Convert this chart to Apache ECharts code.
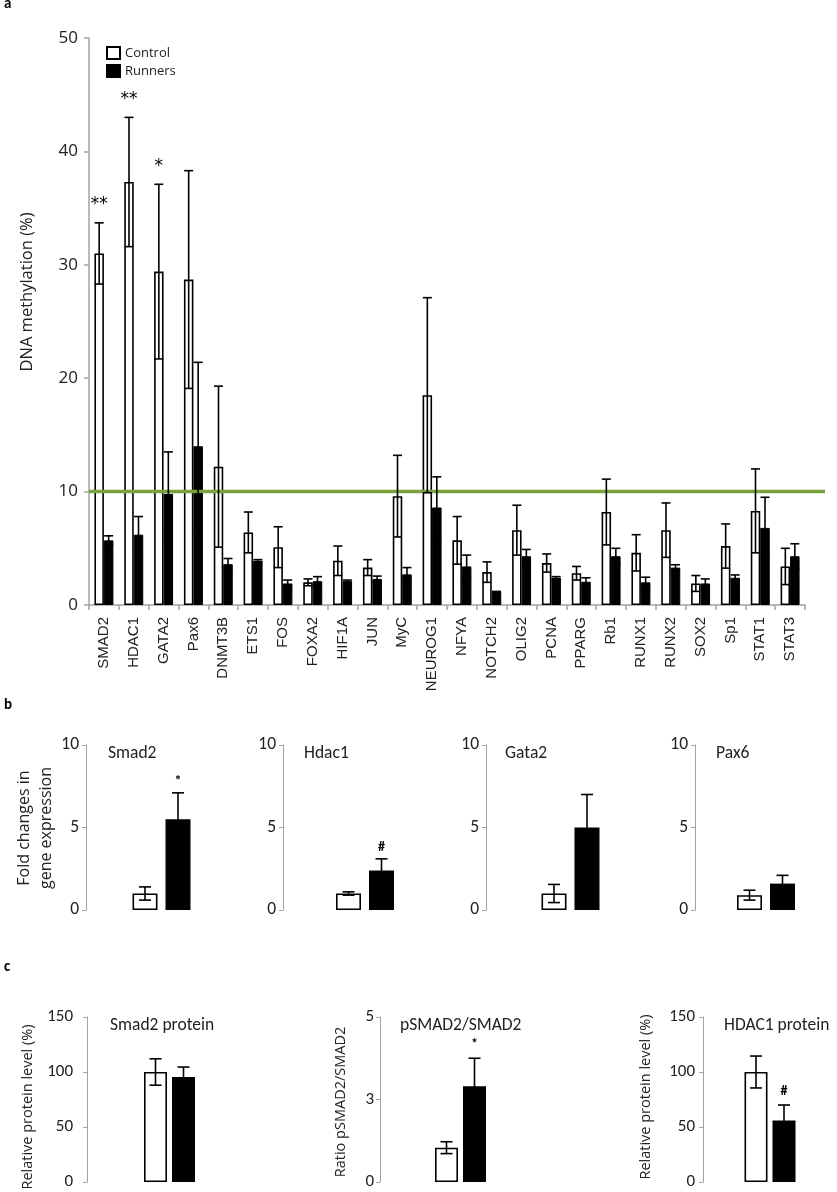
<!DOCTYPE html>
<html><head><meta charset="utf-8">
<script src="https://cdn.jsdelivr.net/npm/echarts/dist/echarts.min.js"></script>
<style>html,body{margin:0;padding:0;background:#fff}#c{width:837px;height:1192px}</style>
</head><body><div id="c"></div>
<script>
// ---------- Panel a data ----------
const genes = ['SMAD2','HDAC1','GATA2','Pax6','DNMT3B','ETS1','FOS','FOXA2','HIF1A','JUN','MyC','NEUROG1','NFYA','NOTCH2','OLIG2','PCNA','PPARG','Rb1','RUNX1','RUNX2','SOX2','Sp1','STAT1','STAT3'];
const controlMean = [31.0,37.3,29.4,28.7,12.2,6.4,5.1,2.0,3.9,3.3,9.6,18.5,5.7,2.9,6.6,3.7,2.8,8.2,4.6,6.6,1.9,5.2,8.3,3.4];
const controlErr  = [2.7,5.7,7.7,9.6,7.1,1.8,1.8,0.3,1.3,0.7,3.6,8.6,2.1,0.9,2.2,0.8,0.6,2.9,1.6,2.4,0.7,1.95,3.7,1.6];
const runnersMean = [5.7,6.2,9.8,14.0,3.6,3.9,1.9,2.1,2.1,2.3,2.7,8.6,3.4,1.15,4.3,2.4,2.05,4.3,2.0,3.3,1.9,2.4,6.8,4.3];
const runnersErr  = [0.4,1.6,3.7,7.4,0.5,0.1,0.3,0.4,0.1,0.25,0.6,2.7,1.0,0.05,0.6,0.1,0.35,0.7,0.45,0.25,0.4,0.25,2.7,1.1];
const sigMarksA   = ['**','**','*','','','','','','','','','','','','','','','','','','','','',''];
const threshold = 10;
const yTicksA = [0, 50, 10]; // min, max, step

// ---------- Panel b data ----------
const bGenes      = ['Smad2','Hdac1','Gata2','Pax6'];
const bControl    = [1.0, 1.0, 1.0, 0.9];
const bControlErr = [0.4, 0.1, 0.55, 0.3];
const bRunners    = [5.5, 2.4, 5.0, 1.6];
const bRunnersErr = [1.6, 0.7, 2.0, 0.5];
const bMarks      = ['*', '#', '', ''];

// ---------- Panel c data ----------
const cTitles     = ['Smad2 protein', 'pSMAD2/SMAD2', 'HDAC1 protein'];
const cControl    = [100, 1.04, 100];
const cControlErr = [12, 0.18, 14.5];
const cRunners    = [95.5, 2.9, 56];
const cRunnersErr = [9, 0.85, 14];
const cMarks      = ['', '*', '#'];
const cYMax       = [150, 5, 150];
const cYStep      = [50, 2.5, 50];
const cYNames     = ['Relative protein level (%)', 'Ratio pSMAD2/SMAD2', 'Relative protein level (%)'];

// ---------- layout ----------
const gridA = {left: 89, top: 38, width: 716, height: 567};
const gridsB = [{left:86,width:151},{left:283,width:164},{left:486,width:169},{left:695,width:178}];
const gridsC = [{left:87,width:165},{left:380,width:161},{left:703,width:169}];
const AXIS_GREY = '#a3a3a3';
const TXT = '#222';

function errRender(offset, capHalf, marks, markFont, markGap) {
  return function (params, api) {
    const i = api.value(0), m = api.value(1), e = api.value(2);
    const pt = api.coord([i, m + e]);
    const pb = api.coord([i, m - e]);
    const x = pt[0] + offset;
    const st = {stroke: '#000', lineWidth: 1.6};
    const ch = [
      {type: 'line', shape: {x1: x, y1: pt[1], x2: x, y2: pb[1]}, style: st},
      {type: 'line', shape: {x1: x - capHalf, y1: pt[1], x2: x + capHalf, y2: pt[1]}, style: st},
      {type: 'line', shape: {x1: x - capHalf, y1: pb[1], x2: x + capHalf, y2: pb[1]}, style: st}
    ];
    const mk = marks[params.dataIndex];
    if (mk) ch.push({type: 'text', x: x, y: pt[1] - markGap,
      style: {text: mk, fill: '#000', font: markFont, align: 'center', verticalAlign: 'middle'}});
    return {type: 'group', children: ch};
  };
}

const grid = [], xAxis = [], yAxis = [], series = [], title = [], graphic = [];

// Panel a
grid.push(gridA);
xAxis.push({type: 'category', gridIndex: 0, data: genes,
  axisLine: {lineStyle: {color: AXIS_GREY, width: 1.5}},
  axisTick: {show: true, length: 5, lineStyle: {color: AXIS_GREY, width: 1.5}},
  axisLabel: {rotate: 90, interval: 0, margin: 12, fontFamily: 'Liberation Sans', fontSize: 15, color: TXT}});
yAxis.push({type: 'value', gridIndex: 0, min: yTicksA[0], max: yTicksA[1], interval: yTicksA[2],
  axisLine: {show: true, lineStyle: {color: AXIS_GREY, width: 1.5}},
  axisTick: {show: true, length: 5, lineStyle: {color: AXIS_GREY, width: 1.5}},
  splitLine: {show: false},
  axisLabel: {fontFamily: 'Open Sans', fontSize: 17, color: TXT, margin: 11}});
// threshold overlay grid (line extends beyond last category)
grid.push({left: 89, top: 38, width: 736, height: 567});
xAxis.push({type: 'value', gridIndex: 1, min: 0, max: 1, show: false});
yAxis.push({type: 'value', gridIndex: 1, min: yTicksA[0], max: yTicksA[1], show: false});

const bwA = 9.5;
series.push({name: 'Control', type: 'bar', xAxisIndex: 0, yAxisIndex: 0, data: controlMean,
  barWidth: bwA, barGap: '0%', itemStyle: {color: '#fff', borderColor: '#000', borderWidth: 1.6}, z: 2});
series.push({name: 'Runners', type: 'bar', xAxisIndex: 0, yAxisIndex: 0, data: runnersMean,
  barWidth: bwA, barGap: '0%', itemStyle: {color: '#000', borderColor: '#000', borderWidth: 1}, z: 2});
series.push({type: 'line', xAxisIndex: 1, yAxisIndex: 1, data: [[0, threshold], [1, threshold]],
  symbol: 'none', lineStyle: {color: '#79a13c', width: 3.5}, z: 3, silent: true});
series.push({type: 'custom', xAxisIndex: 0, yAxisIndex: 0, z: 5,
  data: controlMean.map((v, i) => [i, v, controlErr[i]]),
  renderItem: errRender(-bwA / 2, 4.5, sigMarksA, '17px "DejaVu Sans"', 18)});
series.push({type: 'custom', xAxisIndex: 0, yAxisIndex: 0, z: 5,
  data: runnersMean.map((v, i) => [i, v, runnersErr[i]]),
  renderItem: errRender(bwA / 2, 4.5, [], '', 0)});

// Panel b
bGenes.forEach((g, k) => {
  const gi = grid.length;
  grid.push({left: gridsB[k].left, width: gridsB[k].width, top: 745, height: 165});
  xAxis.push({type: 'category', gridIndex: gi, data: [''], show: false});
  yAxis.push({type: 'value', gridIndex: gi, min: 0, max: 10, interval: 5,
    axisLine: {show: true, lineStyle: {color: AXIS_GREY, width: 1}},
    axisTick: {show: true, length: 4, lineStyle: {color: AXIS_GREY}},
    splitLine: {show: false},
    axisLabel: {fontFamily: 'Carlito', fontSize: 17.5, color: TXT, margin: 7}});
  const bw = 25, gap = 8;
  series.push({name: 'Control', type: 'bar', xAxisIndex: gi, yAxisIndex: gi, data: [bControl[k]],
    barWidth: bw, barGap: (gap / bw * 100) + '%', itemStyle: {color: '#fff', borderColor: '#000', borderWidth: 1.6}});
  series.push({name: 'Runners', type: 'bar', xAxisIndex: gi, yAxisIndex: gi, data: [bRunners[k]],
    barWidth: bw, barGap: (gap / bw * 100) + '%', itemStyle: {color: '#000'}});
  series.push({type: 'custom', xAxisIndex: gi, yAxisIndex: gi, z: 5, data: [[0, bControl[k], bControlErr[k]]],
    renderItem: errRender(-(bw + gap) / 2, 6, [], '', 0)});
  series.push({type: 'custom', xAxisIndex: gi, yAxisIndex: gi, z: 5, data: [[0, bRunners[k], bRunnersErr[k]]],
    renderItem: errRender((bw + gap) / 2, 6, [bMarks[k]], 'bold 14px Carlito', 11)});
  title.push({text: g, left: gridsB[k].left + [17, 16, 14, 16][k], top: 740,
    textStyle: {fontFamily: 'Carlito', fontSize: 17.5, fontWeight: 'normal', color: TXT}});
});

// Panel c
cTitles.forEach((t, k) => {
  const gi = grid.length;
  grid.push({left: gridsC[k].left, width: gridsC[k].width, top: 1017, height: 165});
  xAxis.push({type: 'category', gridIndex: gi, data: [''], show: false});
  yAxis.push({type: 'value', gridIndex: gi, min: 0, max: cYMax[k], interval: cYStep[k],
    axisLine: {show: true, lineStyle: {color: AXIS_GREY, width: 1}},
    axisTick: {show: true, length: 4, lineStyle: {color: AXIS_GREY}},
    splitLine: {show: false},
    axisLabel: {fontFamily: 'Carlito', fontSize: 17, color: TXT, margin: [14, 6, 8][k],
      formatter: v => String(Math.round(v))}});
  const bw = 23, gap = 5;
  series.push({name: 'Control', type: 'bar', xAxisIndex: gi, yAxisIndex: gi, data: [cControl[k]],
    barWidth: bw, barGap: (gap / bw * 100) + '%', itemStyle: {color: '#fff', borderColor: '#000', borderWidth: 1.6}});
  series.push({name: 'Runners', type: 'bar', xAxisIndex: gi, yAxisIndex: gi, data: [cRunners[k]],
    barWidth: bw, barGap: (gap / bw * 100) + '%', itemStyle: {color: '#000'}});
  series.push({type: 'custom', xAxisIndex: gi, yAxisIndex: gi, z: 5, data: [[0, cControl[k], cControlErr[k]]],
    renderItem: errRender(-(bw + gap) / 2, 6, [], '', 0)});
  series.push({type: 'custom', xAxisIndex: gi, yAxisIndex: gi, z: 5, data: [[0, cRunners[k], cRunnersErr[k]]],
    renderItem: errRender((bw + gap) / 2, 6, [cMarks[k]], 'bold 14px Carlito', 14)});
  title.push({text: t, left: gridsC[k].left + [18, 15, 16][k], top: 1012,
    textStyle: {fontFamily: 'Carlito', fontSize: 17.5, fontWeight: 'normal', color: TXT}});
});

// text graphics: panel letters and axis titles
function vtext(str, x, y, size) {
  return {type: 'text', x: x, y: y, rotation: Math.PI / 2,
    style: {text: str, font: size + 'px "Open Sans"', fill: TXT, align: 'center', verticalAlign: 'middle', lineHeight: 22}};
}
graphic.push({type: 'text', x: 4, y: -3, style: {text: 'a', font: 'bold 15px Carlito', fill: '#000'}});
graphic.push({type: 'text', x: 4, y: 698, style: {text: 'b', font: 'bold 15px Carlito', fill: '#000'}});
graphic.push({type: 'text', x: 4, y: 960, style: {text: 'c', font: 'bold 15px Carlito', fill: '#000'}});
graphic.push(vtext('DNA methylation (%)', 27, 292, 16.5));
graphic.push(vtext('Fold changes in\ngene expression', 35, 828, 16));
graphic.push(vtext(cYNames[0], 28, 1107, 14.5));
graphic.push(vtext(cYNames[1], 341, 1102, 14.5));
graphic.push(vtext(cYNames[2], 646, 1097, 14.5));

const chart = echarts.init(document.getElementById('c'), null, {renderer: 'canvas'});
chart.setOption({
  animation: false,
  backgroundColor: '#fff',
  grid: grid, xAxis: xAxis, yAxis: yAxis, series: series, title: title, graphic: graphic,
  legend: {data: ['Control', 'Runners'], orient: 'vertical', left: 101, top: 41,
    itemWidth: 13, itemHeight: 12, itemGap: 4, icon: 'rect', selectedMode: false,
    textStyle: {fontFamily: 'Open Sans', fontSize: 13, color: TXT}}
});
</script></body></html>
